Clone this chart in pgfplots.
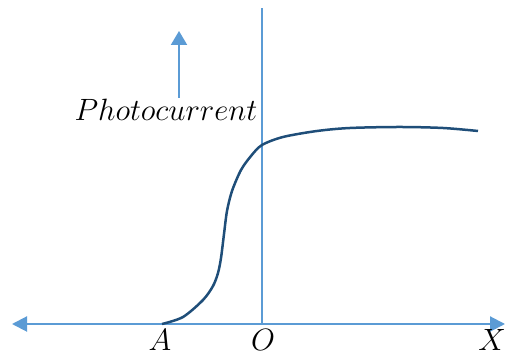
\documentclass[border=0pt]{standalone}
\usepackage{pgfplots}
\pgfplotsset{compat=1.18}
\usetikzlibrary{arrows.meta}
\definecolor{axblue}{HTML}{5B9BD5}
\definecolor{curveblue}{HTML}{1F4E79}
\begin{document}
\begin{tikzpicture}
\begin{axis}[x=0.5pt,y=0.5pt,xmin=0,xmax=506,ymin=0,ymax=356,hide axis,clip=false]
\path (axis cs:0,0) rectangle (axis cs:506,356);
\draw[axblue,line width=1pt,{Triangle[length=7.5pt,width=7.5pt]}-{Triangle[length=7.5pt,width=7.5pt]}] (axis cs:12,32) -- (axis cs:505,32);
\draw[axblue,line width=0.75pt] (axis cs:262,32) -- (axis cs:262,348);
\draw[axblue,line width=1pt,-{Triangle[length=7pt,width=8pt]}] (axis cs:179,258) -- (axis cs:179,325);
\addplot[curveblue,line width=1.25pt,smooth,tension=0.5] coordinates {
(162,32) (183,39) (203,56) (213,70) (218,83) (221,98) (224,122) (227,145) (232,165) (241,186) (251,200) (262,211) (283,219) (317,225) (350,228) (400,229) (443,228) (478,225)
};
\node[inner sep=0pt,font=\fontsize{14.4}{17}\selectfont,scale=1.07,transform shape] at (axis cs:160,16) {$A$};
\node[inner sep=0pt,font=\fontsize{14.4}{17}\selectfont,scale=1.07,transform shape] at (axis cs:263,16) {$O$};
\node[inner sep=0pt,font=\fontsize{14.4}{17}\selectfont,scale=1.07,transform shape] at (axis cs:492,16) {$X$};
\node[inner sep=0pt,font=\fontsize{14.4}{17}\selectfont,scale=1.07,transform shape] at (axis cs:166,246) {$Photocurrent$};
\end{axis}
\end{tikzpicture}
\end{document}
